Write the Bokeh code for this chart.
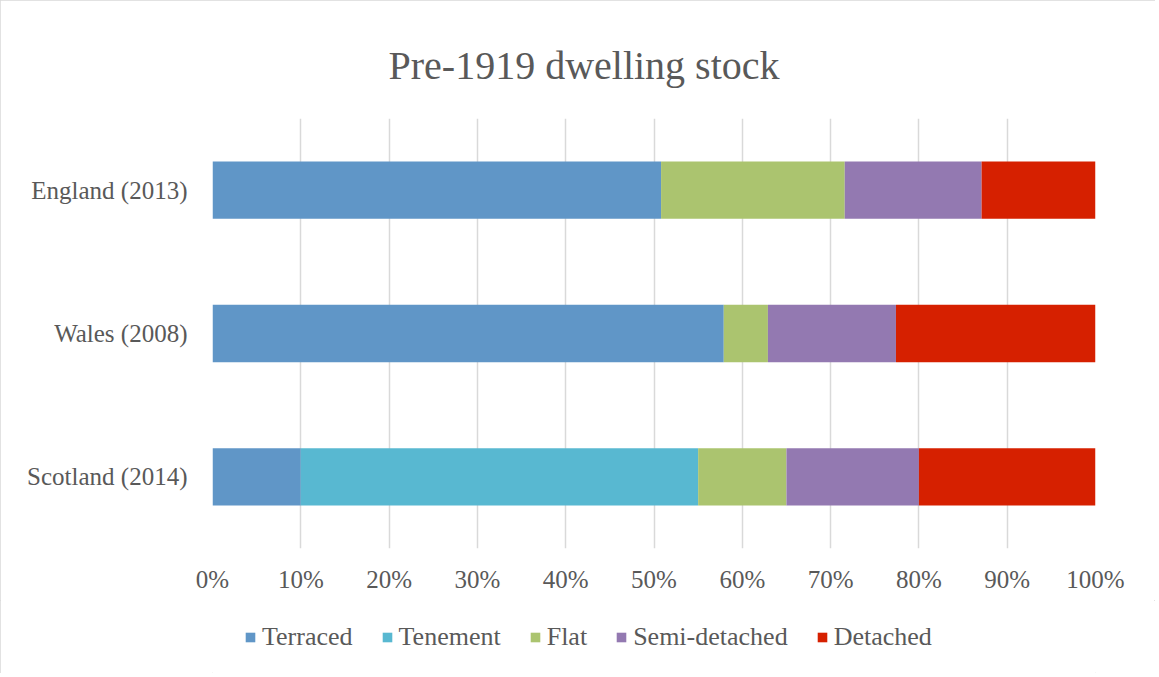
from bokeh.plotting import figure
from bokeh.layouts import column
from bokeh.models import (ColumnDataSource, FixedTicker, PrintfTickFormatter,
                          Legend, LegendItem, FactorRange, Range1d)
from bokeh.embed import file_html
from bokeh.resources import INLINE

categories = ["England (2013)", "Wales (2008)", "Scotland (2014)"]
series = ["Terraced", "Tenement", "Flat", "Semi-detached", "Detached"]
terraced = [50.8, 57.9, 10.0]
tenement = [0.0, 0.0, 45.0]
flat = [20.8, 5.0, 10.0]
semi_detached = [15.5, 14.5, 15.0]
detached = [12.9, 22.6, 20.0]
x_ticks = [0, 10, 20, 30, 40, 50, 60, 70, 80, 90, 100]
colors = ["#6096c7", "#58b8d1", "#abc46f", "#9379b1", "#d62000"]

TEXT = "#595959"
FONT = "Liberation Serif"

data = {"cat": categories, "Terraced": terraced, "Tenement": tenement,
        "Flat": flat, "Semi-detached": semi_detached, "Detached": detached}
src = ColumnDataSource(data)

p = figure(width=1155, height=600, output_backend="svg", toolbar_location=None,
           y_range=FactorRange(*categories[::-1]), x_range=(0, 100),
           min_border_left=212, min_border_right=60, min_border_top=118,
           min_border_bottom=52)

rs = p.hbar_stack(series, y="cat", height=0.4, color=colors, source=src,
                  line_color=None)

p.title.text = "Pre-1919 dwelling stock"
p.title.text_font = FONT
p.title.text_font_size = "40px"
p.title.text_font_style = "normal"
p.title.text_color = TEXT
p.title.align = "left"
p.title.offset = 176
p.title.standoff = 62

p.xaxis.ticker = FixedTicker(ticks=x_ticks)
p.xaxis.formatter = PrintfTickFormatter(format="%d%%")
p.xaxis.axis_line_color = None
p.xaxis.major_tick_line_color = None
p.xaxis.minor_tick_line_color = None
p.xaxis.major_label_text_font = FONT
p.xaxis.major_label_text_font_size = "25px"
p.xaxis.major_label_text_color = TEXT
p.xaxis.major_label_standoff = 11

p.yaxis.axis_line_color = None
p.yaxis.major_tick_line_color = None
p.yaxis.minor_tick_line_color = None
p.yaxis.major_label_text_font = FONT
p.yaxis.major_label_text_font_size = "25px"
p.yaxis.major_label_text_color = TEXT
p.yaxis.major_label_standoff = 19

p.xgrid.grid_line_color = "#d9d9d9"
p.xgrid.grid_line_width = 1.5
p.ygrid.grid_line_color = None
p.outline_line_color = None

# legend strip below the chart
q = figure(width=1155, height=73, output_backend="svg", toolbar_location=None,
           y_range=FactorRange(*categories[::-1]), x_range=Range1d(0, 100),
           min_border_left=0, min_border_right=0, min_border_top=0,
           min_border_bottom=0)
q.axis.visible = False
q.grid.visible = False
q.outline_line_color = None
qs = q.hbar_stack(series, y="cat", height=0.4, color=colors, source=src,
                  line_color=None)
for r in qs:
    r.visible = False

legend = Legend(items=[LegendItem(label=s, renderers=[r]) for s, r in zip(series, qs)],
                orientation="horizontal", location=(32, 21),
                label_text_font=FONT, label_text_font_size="26px",
                label_text_color=TEXT, glyph_width=12, glyph_height=12,
                label_standoff=6, spacing=28, border_line_color=None,
                background_fill_alpha=0, padding=0, margin=0,
                inactive_fill_alpha=0)
q.add_layout(legend)

layout = column(p, q, spacing=0)
layout.styles = {"outline": "1px solid #d9d9d9", "outline-offset": "-1px"}
open("out.html", "w").write(file_html(layout, INLINE))
